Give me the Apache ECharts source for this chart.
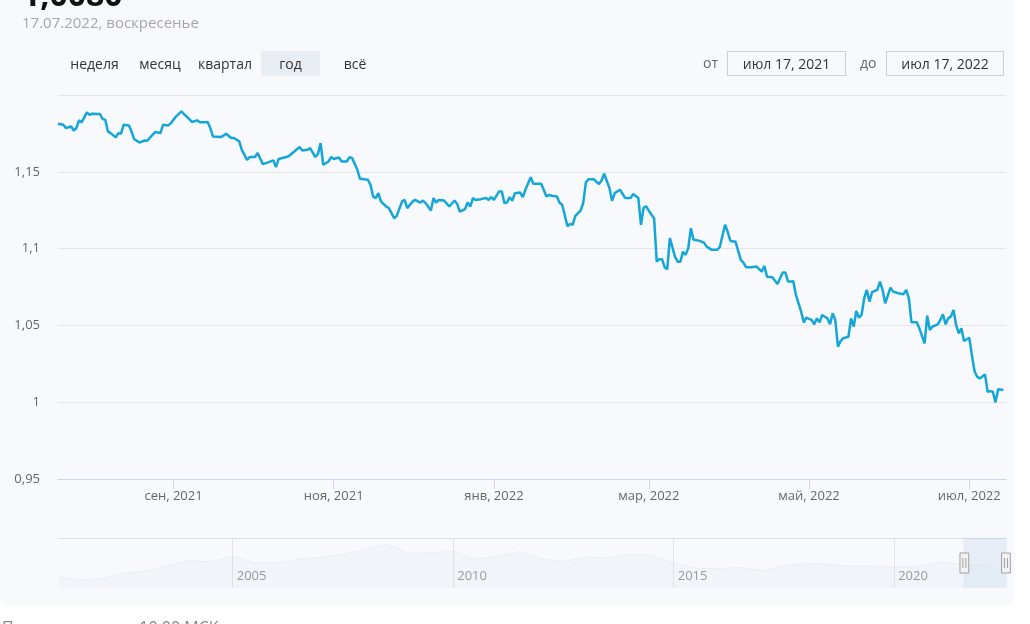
<!DOCTYPE html>
<html><head><meta charset="utf-8">
<script src="https://cdn.jsdelivr.net/npm/echarts@6/dist/echarts.min.js"></script>
<style>
html,body{margin:0;padding:0;background:#fff;width:1030px;height:624px;overflow:hidden;font-family:"Open Sans",sans-serif;}
#card{position:absolute;left:0;top:-20px;width:1015px;height:625px;background:#f7f9fc;border-radius:8px;}
#chart{position:absolute;left:0;top:0;width:1030px;height:624px;}
.t{position:absolute;white-space:nowrap;line-height:1;}
.btn{position:absolute;top:51px;height:25px;font-size:14px;color:#333;display:flex;align-items:center;justify-content:center;}
.box{position:absolute;top:51px;height:25px;border:1px solid #cfcfcf;font-size:14px;color:#333;display:flex;align-items:center;justify-content:center;box-sizing:border-box;}
</style></head>
<body>
<div id="card"></div>
<div id="chart"></div>
<div class="t" style="left:22px;top:-22px;font-size:32px;font-weight:700;color:#111;">1,0080</div>
<div class="t" style="left:22px;top:15px;font-size:15px;color:#a3a7b3;">17.07.2022, воскресенье</div>
<div class="btn" style="left:64px;width:61px;">неделя</div>
<div class="btn" style="left:134px;width:52px;">месяц</div>
<div class="btn" style="left:193px;width:64px;">квартал</div>
<div class="btn" style="left:261px;width:59px;background:#e8ecf3;">год</div>
<div class="btn" style="left:336px;width:38px;">всё</div>
<div class="t" style="left:703px;top:56px;font-size:14px;color:#666;">от</div>
<div class="box" style="left:727px;width:119px;">июл 17, 2021</div>
<div class="t" style="left:860px;top:56px;font-size:14px;color:#666;">до</div>
<div class="box" style="left:886px;width:118px;">июл 17, 2022</div>
<div class="t" style="left:2px;top:619px;font-size:16px;color:#888;">По состоянию на 10:00 МСК</div>
<script>
const MONTHS = ['янв','фев','мар','апр','май','июн','июл','авг','сен','окт','ноя','дек'];

const dailyDates = [
'2021-07-19','2021-07-21','2021-07-22','2021-07-24','2021-07-25','2021-07-26','2021-07-27','2021-07-28','2021-07-30','2021-07-31',
'2021-08-01','2021-08-04','2021-08-05','2021-08-06','2021-08-07','2021-08-08','2021-08-10','2021-08-11','2021-08-12','2021-08-13',
'2021-08-15','2021-08-16','2021-08-17','2021-08-19','2021-08-21','2021-08-22','2021-08-24','2021-08-25','2021-08-27','2021-08-28',
'2021-08-30','2021-08-31','2021-09-02','2021-09-04','2021-09-05','2021-09-07','2021-09-08','2021-09-10','2021-09-11','2021-09-13',
'2021-09-14','2021-09-15','2021-09-16','2021-09-19','2021-09-20','2021-09-21','2021-09-23','2021-09-24','2021-09-26','2021-09-27',
'2021-09-29','2021-09-30','2021-10-02','2021-10-03','2021-10-05','2021-10-07','2021-10-09','2021-10-10','2021-10-11','2021-10-14',
'2021-10-15','2021-10-17','2021-10-19','2021-10-20','2021-10-22','2021-10-23','2021-10-25','2021-10-26','2021-10-27','2021-10-28',
'2021-10-30','2021-10-31','2021-11-01','2021-11-03','2021-11-04','2021-11-06','2021-11-07','2021-11-08','2021-11-10','2021-11-11',
'2021-11-14','2021-11-15','2021-11-16','2021-11-17','2021-11-18','2021-11-19','2021-11-21','2021-11-22','2021-11-24','2021-11-25',
'2021-11-27','2021-11-28','2021-11-29','2021-12-01','2021-12-02','2021-12-04','2021-12-05','2021-12-06','2021-12-08','2021-12-09',
'2021-12-10','2021-12-11','2021-12-13','2021-12-15','2021-12-17','2021-12-18','2021-12-19','2021-12-21','2021-12-22','2021-12-23',
'2021-12-24','2021-12-25','2021-12-27','2021-12-29','2021-12-30','2021-12-31','2022-01-01','2022-01-03','2022-01-04','2022-01-05',
'2022-01-06','2022-01-07','2022-01-08','2022-01-09','2022-01-11','2022-01-12','2022-01-13','2022-01-15','2022-01-16','2022-01-19',
'2022-01-21','2022-01-22','2022-01-23','2022-01-25','2022-01-26','2022-01-27','2022-01-29','2022-01-30','2022-01-31','2022-02-01',
'2022-02-03','2022-02-04','2022-02-05','2022-02-06','2022-02-08','2022-02-10','2022-02-11','2022-02-12','2022-02-14','2022-02-15',
'2022-02-16','2022-02-18','2022-02-20','2022-02-22','2022-02-23','2022-02-25','2022-02-26','2022-02-27','2022-02-28','2022-03-02',
'2022-03-03','2022-03-04','2022-03-05','2022-03-06','2022-03-07','2022-03-08','2022-03-09','2022-03-11','2022-03-12','2022-03-13',
'2022-03-14','2022-03-15','2022-03-16','2022-03-17','2022-03-18','2022-03-20','2022-03-22','2022-03-23','2022-03-25','2022-03-27',
'2022-03-28','2022-03-30','2022-03-31','2022-04-01','2022-04-02','2022-04-03','2022-04-05','2022-04-06','2022-04-07','2022-04-09',
'2022-04-11','2022-04-13','2022-04-14','2022-04-15','2022-04-17','2022-04-19','2022-04-21','2022-04-22','2022-04-23','2022-04-25',
'2022-04-26','2022-04-28','2022-04-29','2022-04-30','2022-05-02','2022-05-03','2022-05-04','2022-05-05','2022-05-06','2022-05-08',
'2022-05-09','2022-05-10','2022-05-11','2022-05-12','2022-05-13','2022-05-14','2022-05-16','2022-05-17','2022-05-18','2022-05-19',
'2022-05-20','2022-05-21','2022-05-22','2022-05-23','2022-05-24','2022-05-25','2022-05-27','2022-05-28','2022-05-29','2022-05-30',
'2022-06-01','2022-06-02','2022-06-04','2022-06-06','2022-06-07','2022-06-08','2022-06-09','2022-06-11','2022-06-12','2022-06-14',
'2022-06-15','2022-06-16','2022-06-17','2022-06-19','2022-06-20','2022-06-21','2022-06-22','2022-06-23','2022-06-24','2022-06-25',
'2022-06-26','2022-06-27','2022-06-28','2022-06-29','2022-07-01','2022-07-02','2022-07-03','2022-07-04','2022-07-05','2022-07-07',
'2022-07-08','2022-07-09','2022-07-10','2022-07-11','2022-07-12','2022-07-14'
];
const dailyValues = [
1.1813,1.1806,1.1785,1.1795,1.1769,1.1785,1.1835,1.1822,1.1887,1.1870,
1.1878,1.1876,1.1843,1.1839,1.1763,1.1752,1.1724,1.1752,1.1748,1.1806,
1.1802,1.1763,1.1713,1.1691,1.1704,1.1702,1.1741,1.1759,1.1752,1.1806,
1.1802,1.1817,1.1861,1.1893,1.1876,1.1843,1.1824,1.1835,1.1822,1.1822,
1.1824,1.1785,1.1730,1.1726,1.1735,1.1748,1.1720,1.1720,1.1698,1.1643,
1.1578,1.1596,1.1596,1.1622,1.1550,1.1561,1.1574,1.1531,1.1583,1.1596,
1.1604,1.1632,1.1661,1.1639,1.1643,1.1654,1.1596,1.1617,1.1687,1.1546,
1.1567,1.1596,1.1583,1.1593,1.1567,1.1567,1.1596,1.1589,1.1513,1.1454,
1.1448,1.1415,1.1339,1.1329,1.1361,1.1306,1.1274,1.1263,1.1198,1.1213,
1.1306,1.1317,1.1263,1.1306,1.1317,1.1300,1.1313,1.1296,1.1248,1.1329,
1.1300,1.1317,1.1313,1.1274,1.1313,1.1291,1.1241,1.1257,1.1300,1.1274,
1.1329,1.1317,1.1322,1.1329,1.1317,1.1335,1.1317,1.1372,1.1372,1.1296,
1.1300,1.1335,1.1311,1.1361,1.1365,1.1335,1.1383,1.1465,1.1422,1.1422,
1.1339,1.1350,1.1344,1.1339,1.1298,1.1285,1.1145,1.1161,1.1155,1.1213,
1.1248,1.1296,1.1430,1.1452,1.1452,1.1420,1.1443,1.1487,1.1394,1.1311,
1.1361,1.1383,1.1329,1.1329,1.1355,1.1329,1.1155,1.1267,1.1274,1.1220,
1.1198,1.0915,1.0931,1.0931,1.0879,1.0866,1.1068,1.0944,1.0915,1.0915,
1.0980,1.0959,1.1003,1.1133,1.1057,1.1052,1.1039,1.1013,1.0992,1.0992,
1.1009,1.1155,1.1111,1.1052,1.1046,1.1046,1.0926,1.0909,1.0879,1.0879,
1.0883,1.0850,1.0887,1.0817,1.0814,1.0770,1.0844,1.0844,1.0785,1.0787,
1.0698,1.0589,1.0520,1.0550,1.0535,1.0507,1.0546,1.0520,1.0568,1.0546,
1.0507,1.0579,1.0535,1.0361,1.0398,1.0416,1.0426,1.0546,1.0492,1.0594,
1.0550,1.0568,1.0677,1.0731,1.0655,1.0716,1.0731,1.0785,1.0731,1.0644,
1.0746,1.0720,1.0709,1.0703,1.0731,1.0677,1.0520,1.0520,1.0481,1.0383,
1.0563,1.0470,1.0492,1.0507,1.0535,1.0572,1.0507,1.0546,1.0557,1.0600,
1.0503,1.0448,1.0481,1.0398,1.0420,1.0307,1.0203,1.0166,1.0155,1.0181,
1.0068,1.0072,1.0068,0.9999,1.0085,1.0079
];

// coarse long history shown faintly in the navigator (estimated)
const histDates = [
'2001-01-15','2001-07-01','2002-01-01','2002-07-01','2003-01-01','2003-07-01','2004-01-01','2004-07-01',
'2005-01-01','2005-07-01','2006-01-01','2006-07-01','2007-01-01','2007-07-01','2008-01-01','2008-07-01',
'2009-01-01','2009-07-01','2010-01-01','2010-07-01','2011-01-01','2011-07-01','2012-01-01','2012-07-01',
'2013-01-01','2013-07-01','2014-01-01','2014-07-01','2015-01-01','2015-07-01','2016-01-01','2016-07-01',
'2017-01-01','2017-07-01','2018-01-01','2018-07-01','2019-01-01','2019-07-01','2020-01-01','2020-07-01',
'2021-01-01','2021-07-01'
];
const histValues = [
0.94,0.85,0.89,0.99,1.04,1.14,1.26,1.22,
1.34,1.20,1.20,1.28,1.32,1.37,1.47,1.58,
1.39,1.41,1.43,1.28,1.33,1.43,1.29,1.23,
1.32,1.30,1.37,1.36,1.20,1.10,1.09,1.11,
1.05,1.14,1.20,1.17,1.14,1.14,1.12,1.12,
1.22,1.18
];

const xTickDates = ['2021-09-01','2021-11-01','2022-01-01','2022-03-01','2022-05-01','2022-07-01'];
const navTickDates = ['2005-01-01','2010-01-01','2015-01-01','2020-01-01'];
const windowStart = '2021-07-19';
const windowEnd = '2022-07-15';
const yMin = 0.95, yMax = 1.2, yInterval = 0.05;

function ts(s){ const p = s.split('-').map(Number); return new Date(p[0], p[1]-1, p[2]).getTime(); }

const mainData = dailyDates.map((d,i)=>[ts(d), dailyValues[i]]);
const navData = histDates.map((d,i)=>[ts(d), histValues[i]]).concat(mainData);
const fullMin = ts(histDates[0]);
const fullMax = ts(windowEnd);
const xTicks = xTickDates.map(ts);
const navTicks = navTickDates.map(ts);

const chart = echarts.init(document.getElementById('chart'), null, {renderer:'canvas'});
chart.setOption({
  animation:false,
  backgroundColor:'transparent',
  textStyle:{fontFamily:'Open Sans'},
  grid:[
    {left:58,right:24,top:95,bottom:145,outerBoundsMode:'none'},
    {left:58,right:24,top:538,height:50,outerBoundsMode:'none'}
  ],
  xAxis:[
    {type:'value',gridIndex:0,min:fullMin,max:fullMax,scale:true,
     axisLine:{show:true,lineStyle:{color:'#ccd6eb',width:1}},
     axisTick:{show:true,length:10,lineStyle:{color:'#ccd6eb'},customValues:xTicks},
     axisLabel:{customValues:xTicks,color:'#666',fontSize:13,margin:11,fontFamily:'Open Sans',
       formatter:function(v){const d=new Date(v);return MONTHS[d.getMonth()]+', '+d.getFullYear();}},
     splitLine:{show:false}},
    {type:'value',gridIndex:1,min:fullMin,max:fullMax,scale:true,
     axisLine:{show:false},
     axisTick:{show:false,customValues:navTicks},
     axisLabel:{inside:true,customValues:navTicks,align:'left',padding:[0,0,0,4],margin:5,color:'#999',fontSize:13,fontFamily:'Open Sans',
       formatter:function(v){return String(new Date(v).getFullYear());}},
     splitLine:{show:true,lineStyle:{color:'#e3e3e3'}}},
    {type:'value',gridIndex:1,position:'top',min:fullMin,max:fullMax,scale:true,
     axisLine:{show:true,lineStyle:{color:'#dcdfe6'}},axisTick:{show:false},axisLabel:{show:false},splitLine:{show:false}}
  ],
  yAxis:[
    {type:'value',gridIndex:0,min:yMin,max:yMax,interval:yInterval,
     axisLine:{show:false},axisTick:{show:false},
     axisLabel:{showMaxLabel:false,color:'#666',fontSize:13,margin:18,fontFamily:'Open Sans',
       formatter:function(v){return String(+v.toFixed(2)).replace('.',',');}},
     splitLine:{show:true,lineStyle:{color:'#e6e6e6'}}},
    {type:'value',gridIndex:1,min:0.7,max:1.7,show:false}
  ],
  dataZoom:[{
    type:'slider',xAxisIndex:0,left:58,right:24,top:538,height:50,
    startValue:ts(windowStart),endValue:ts(windowEnd),
    filterMode:'filter',showDataShadow:false,showDetail:false,brushSelect:false,moveHandleSize:0,
    backgroundColor:'transparent',borderColor:'transparent',borderRadius:0,
    fillerColor:'rgba(102,133,194,0.10)',
    handleIcon:'path://M-3.5,-8 h7 v16 h-7 z M-1.2,-4 v8 M1.2,-4 v8',
    handleSize:20,
    handleStyle:{color:'#f2f2f2',borderColor:'#a0a0a0',borderWidth:1},
    emphasis:{handleStyle:{color:'#f2f2f2',borderColor:'#a0a0a0'}}
  }],
  series:[
    {type:'line',xAxisIndex:1,yAxisIndex:1,data:navData,showSymbol:false,silent:true,
     lineStyle:{color:'rgba(140,170,215,0.10)',width:1},
     areaStyle:{color:'rgba(140,170,215,0.07)'}},
    {type:'line',xAxisIndex:0,yAxisIndex:0,data:mainData,showSymbol:false,
     lineStyle:{color:'#15a6d8',width:2.5},itemStyle:{color:'#15a6d8'}}
  ]
});
</script>
</body></html>
